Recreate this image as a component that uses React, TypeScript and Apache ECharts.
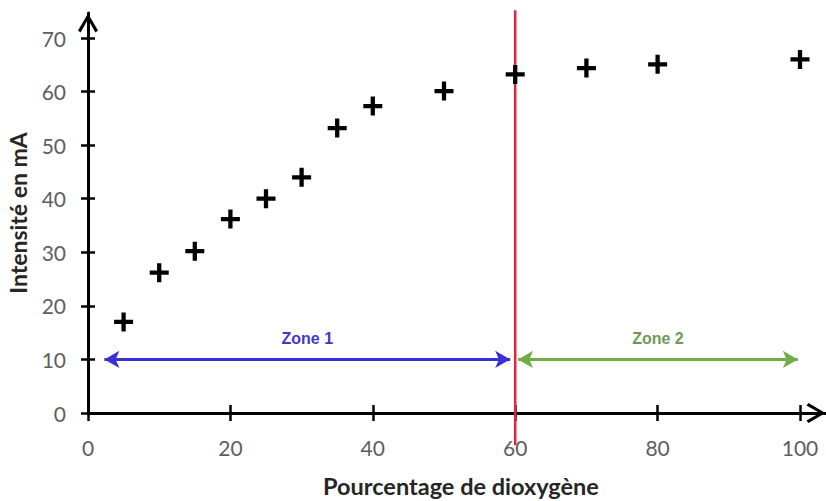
import React, { useEffect, useRef } from 'react';
import * as echarts from 'echarts';

// Data
const oxygenPercent = [5, 10, 15, 20, 25, 30, 35, 40, 50, 60, 70, 80, 100];
const intensityMA = [17, 26.2, 30.2, 36.2, 40, 44, 53.2, 57.3, 60.1, 63.2, 64.4, 65.1, 66];
const xTickValues = [0, 20, 40, 60, 80, 100];
const yTickValues = [0, 10, 20, 30, 40, 50, 60, 70];
const xAxisMax = 103.65;
const yAxisMax = 74.67;
const thresholdX = 60;
const thresholdSpan = [-6, 75.2];
const zoneLevel = 10;
const zone1Span = [2.3, 59.3];
const zone2Span = [60.4, 99.7];
const zoneNames = ['Zone 1', 'Zone 2'];

const crossPath = 'path://M6.2,0 H9.8 V6.2 H16 V9.8 H9.8 V16 H6.2 V9.8 H0 V6.2 H6.2 Z';
const chevronPath = 'path://M10,0 L20,17 L17.4,19 L10,5.8 L2.6,19 L0,17 Z';

const FONT = 'Lato, "Open Sans", sans-serif';
const ZONE_FONT = 'Liberation Sans, Arial, sans-serif';

export default function App() {
  const ref = useRef<HTMLDivElement>(null);

  useEffect(() => {
    if (!ref.current) return;
    const chart = echarts.init(ref.current, null, { renderer: 'svg' });

    const tickStyle = { color: '#000', width: 2.5 };
    const baseX = {
      type: 'value' as const,
      min: 0,
      max: xAxisMax,
      interval: 20,
      position: 'bottom' as const,
      splitLine: { show: false },
    };
    const baseY = {
      type: 'value' as const,
      min: 0,
      max: yAxisMax,
      interval: 10,
      position: 'left' as const,
      splitLine: { show: false },
    };

    const option: any = {
      animation: false,
      backgroundColor: '#fff',
      grid: { left: 88, right: 0, top: 13, bottom: 88, containLabel: false, outerBoundsMode: 'none' },
      xAxis: [
        {
          ...baseX,
          name: 'Pourcentage de dioxygène',
          nameLocation: 'middle',
          nameGap: 61,
          nameTextStyle: { fontFamily: FONT, fontWeight: 'bold', fontSize: 23.5, color: '#262626', padding: [0, 0, 0, 8] },
          axisLine: {
            show: true,
            onZero: false,
            lineStyle: { color: '#000', width: 3 },
            symbol: ['none', chevronPath],
            symbolSize: [20, 20],
            symbolOffset: [0, -10],
          },
          axisTick: { show: true, length: 8, lineStyle: tickStyle, customValues: xTickValues },
          axisLabel: { show: true, customValues: xTickValues, color: '#5e5e5e', fontFamily: FONT, fontSize: 21, margin: 24 },
        },
        {
          ...baseX,
          axisLine: { show: false, onZero: false },
          axisTick: { show: true, inside: true, length: 8, lineStyle: tickStyle, customValues: xTickValues },
          axisLabel: { show: false },
        },
      ],
      yAxis: [
        {
          ...baseY,
          name: 'Intensité en mA',
          nameLocation: 'middle',
          nameGap: 59,
          nameTextStyle: { fontFamily: FONT, fontWeight: 'bold', fontSize: 23, color: '#262626', padding: [0, 0, 0, 0] },
          axisLine: {
            show: true,
            onZero: false,
            lineStyle: { color: '#000', width: 3 },
            symbol: ['none', chevronPath],
            symbolSize: [20, 20],
            symbolOffset: [0, -10],
          },
          axisTick: { show: true, length: 7, lineStyle: tickStyle, customValues: yTickValues },
          axisLabel: { show: true, customValues: yTickValues, color: '#5e5e5e', fontFamily: FONT, fontSize: 21, margin: 22 },
        },
        {
          ...baseY,
          axisLine: { show: false, onZero: false },
          axisTick: { show: true, inside: true, length: 7, lineStyle: tickStyle, customValues: yTickValues },
          axisLabel: { show: false },
        },
      ],
      series: [
        {
          type: 'line',
          name: 'seuil',
          silent: true,
          clip: false,
          symbol: 'none',
          lineStyle: { color: '#e0263c', width: 2.5 },
          data: [[thresholdX, thresholdSpan[1]], [thresholdX, thresholdSpan[0]]],
          z: 5,
        },
        {
          type: 'line',
          name: zoneNames[0],
          silent: true,
          data: [],
          markLine: {
            silent: true,
            symbol: ['arrow', 'arrow'],
            symbolSize: [13, 15],
            lineStyle: { color: '#3a2fd6', width: 3, type: 'solid' },
            label: {
              show: true,
              position: 'middle',
              formatter: zoneNames[0],
              color: '#4437c8',
              fontFamily: ZONE_FONT,
              fontWeight: 'bold',
              fontSize: 16,
              distance: 13,
            },
            emphasis: { disabled: true },
            data: [[{ coord: [zone1Span[0], zoneLevel] }, { coord: [zone1Span[1], zoneLevel] }]],
          },
        },
        {
          type: 'line',
          name: zoneNames[1],
          silent: true,
          data: [],
          markLine: {
            silent: true,
            symbol: ['arrow', 'arrow'],
            symbolSize: [13, 15],
            lineStyle: { color: '#70ad47', width: 3, type: 'solid' },
            label: {
              show: true,
              position: 'middle',
              formatter: zoneNames[1],
              color: '#6e9a55',
              fontFamily: ZONE_FONT,
              fontWeight: 'bold',
              fontSize: 16,
              distance: 13,
            },
            emphasis: { disabled: true },
            data: [[{ coord: [zone2Span[0], zoneLevel] }, { coord: [zone2Span[1], zoneLevel] }]],
          },
        },
        {
          type: 'scatter',
          name: 'Intensité',
          symbol: crossPath,
          symbolSize: 19,
          itemStyle: { color: '#000', opacity: 1 },
          data: oxygenPercent.map((x, i) => [x, intensityMA[i]]),
          z: 6,
        },
      ],
    };

    chart.setOption(option);
    return () => chart.dispose();
  }, []);

  return (
    <div
      ref={ref}
      style={{ position: 'absolute', left: 0, top: 0, width: 826, height: 501 }}
    />
  );
}
